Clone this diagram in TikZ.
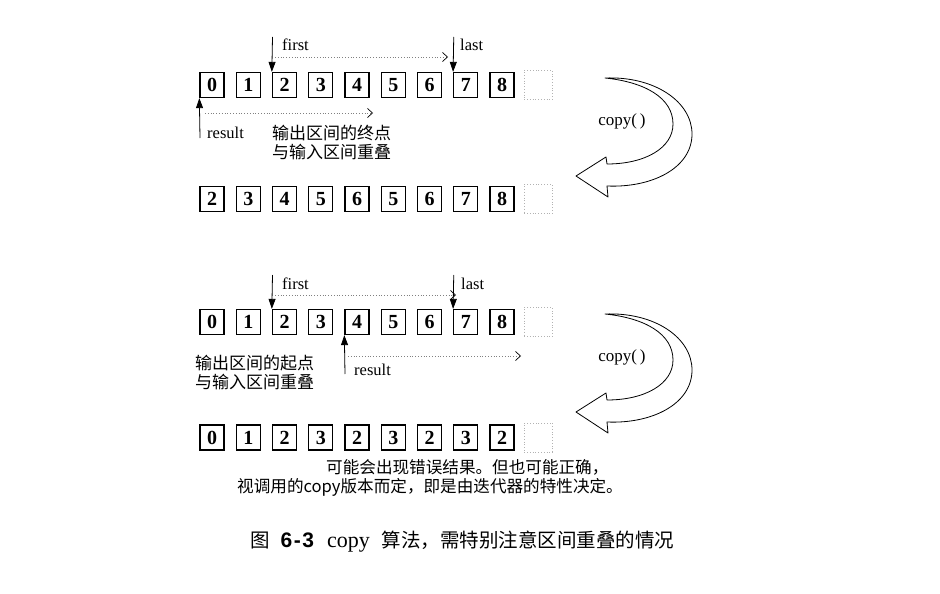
\documentclass[tikz,border=0pt]{standalone}
\usepackage{fontspec}
\setmainfont{Liberation Serif}
\newfontfamily\cjk{Noto Sans CJK SC}
\newfontfamily\hei{Liberation Sans}
\usetikzlibrary{arrows.meta}
\begin{document}
\begin{tikzpicture}[x=1pt,y=-1pt,
  cell/.style={draw, line width=1.3pt, minimum width=24pt, minimum height=25pt, inner sep=0pt,
    font=\fontsize{20}{20}\selectfont\bfseries},
  emptycell/.style={draw=gray!60, dotted, line width=0.8pt, minimum width=28pt, minimum height=29pt, inner sep=0pt},
  ptr/.style={line width=0.8pt, -{Triangle[length=10pt,width=7pt]}},
  spanarrow/.style={gray, dotted, line width=0.8pt, -{Straight Barb[length=5pt,width=9pt,color=black,line width=0.7pt]}},
  lbl/.style={font=\fontsize{16.5}{16.5}\selectfont, inner sep=0pt, anchor=west},
  cn/.style={font=\cjk\fontsize{17}{17}\selectfont, inner sep=0pt, anchor=west},
  note/.style={font=\cjk\fontsize{16.6}{16.6}\selectfont, inner sep=0pt, anchor=west},
  copyarrow/.style={draw, line width=0.8pt, fill=white, line join=round}
]
\path[use as bounding box] (0,0) rectangle (940,594);

% row 1 (input)
\foreach \v [count=\i from 0] in {0,1,2,3,4,5,6,7,8}
  \node[cell] (a\i) at ({212+36.25*\i},85) {\v};
\node[emptycell] (a9) at (538.25,85) {};
% row 2 (result of case 1)
\foreach \v [count=\i from 0] in {2,3,4,5,6,5,6,7,8}
  \node[cell] (b\i) at ({212+36.25*\i},199) {\v};
\node[emptycell] (b9) at (538.25,199) {};
% row 3 (input case 2)
\foreach \v [count=\i from 0] in {0,1,2,3,4,5,6,7,8}
  \node[cell] (c\i) at ({212+36.25*\i},322) {\v};
\node[emptycell] (c9) at (538.25,322) {};
% row 4 (result of case 2)
\foreach \v [count=\i from 0] in {0,1,2,3,2,3,2,3,2}
  \node[cell] (d\i) at ({212+36.25*\i},437.5) {\v};
\node[emptycell] (d9) at (538.25,437.5) {};

% ---- case 1 pointers
\coordinate (f1) at (272.5,37);
\coordinate (l1) at (453.75,37);
\coordinate (r1) at (200,138);
\draw[ptr] (f1) -- (a2.north west);
\draw[ptr] (l1) -- (a7.north west);
\draw[ptr] (r1) -- (a0.south west);
\node[lbl] (tf1) at (282,45) {first};
\node[lbl] (tl1) at (460,45) {last};
\node[lbl] (tr1) at (207,133) {result};
\coordinate (d1s) at (275,57);
\coordinate (d1e) at (448,57);
\draw[spanarrow] (d1s) -- (d1e);
\coordinate (e1s) at (205,113);
\coordinate (e1e) at (373,113);
\draw[spanarrow] (e1s) -- (e1e);
\node[cn] (n1a) at (272,133) {输出区间的终点};
\node[cn] (n1b) at (272,152) {与输入区间重叠};

% ---- case 2 pointers
\coordinate (f2) at (272.5,275);
\coordinate (l2) at (453.75,275);
\coordinate (r2) at (345,374);
\draw[ptr] (f2) -- (c2.north west);
\draw[ptr] (l2) -- (c7.north west);
\draw[ptr] (r2) -- (c4.south west);
\node[lbl] (tf2) at (282,284) {first};
\node[lbl] (tl2) at (461,284) {last};
\node[lbl] (tr2) at (354,370) {result};
\coordinate (d2s) at (275,295);
\coordinate (d2e) at (456,295);
\draw[spanarrow] (d2s) -- (d2e);
\coordinate (e2s) at (348,356);
\coordinate (e2e) at (521,356);
\draw[spanarrow] (e2s) -- (e2e);
\node[cn] (n2a) at (195,363) {输出区间的起点};
\node[cn] (n2b) at (195,382) {与输入区间重叠};

% ---- copy() arrows
\foreach \dy/\nm in {0/ca,236/cb} {
  \begin{scope}[yshift=-\dy pt]
    \draw[copyarrow] (605,78) .. controls (655,76) and (692,102) .. (692,134)
      .. controls (692,168) and (652,188) .. (607,186)
      -- (608,197) -- (576,176) -- (606,157) -- (607,164)
      .. controls (645,164) and (673,148) .. (673,124)
      .. controls (673,98) and (645,82) .. (605,78) -- cycle;
    \node[font=\fontsize{17}{17}\selectfont, inner sep=0pt] (\nm) at (622,121) {copy(\,)};
  \end{scope}
}

% ---- note
\node[note] (note1) at (326,467) {可能会出现错误结果。但也可能正确，};
\node[note] (note2) at (237,487) {视调用的copy版本而定，即是由迭代器的特性决定。};

% ---- caption
\node[anchor=west, inner sep=0pt, font=\fontsize{19.5}{19.5}\selectfont] (cap) at (250,542)
  {{\cjk 图}\hspace{11pt}{\hei\bfseries\fontsize{21}{21}\selectfont 6\kern1.5pt-\kern1.5pt3}\hspace{13pt}{\fontsize{22}{22}\selectfont copy}\hspace{12pt}{\cjk 算法，需特别注意区间重叠的情况}};
\end{tikzpicture}
\end{document}
